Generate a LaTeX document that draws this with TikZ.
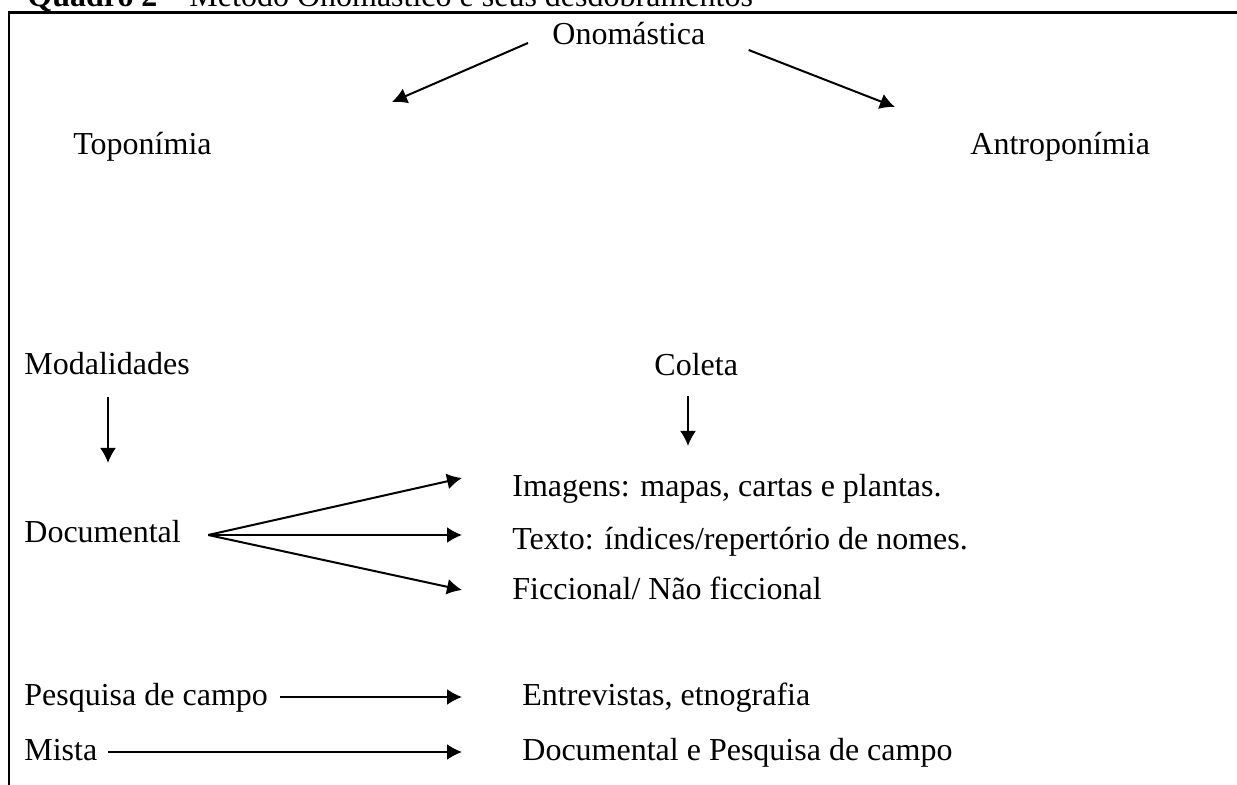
\documentclass[tikz,border=0pt]{standalone}
\usepackage{fontspec}
\setmainfont{Liberation Serif}
\usetikzlibrary{arrows.meta}

\begin{document}
\begin{tikzpicture}[x=0.5pt,y=-0.5pt,
    txt/.style={anchor=base west,inner sep=0pt,font=\fontsize{16}{19}\selectfont},
    arr/.style={-{Latex[length=7.5pt,width=8pt]},line width=1pt}]
    \useasboundingbox (0,0) rectangle (1237,785);
    % frame (open at right and bottom)
    \draw[line width=1.1pt] (1237,12.5) -- (9,12.5) -- (9,785);
    \node[txt] (title) at (27,7) {\textbf{Quadro 2} -- Método Onomástico e seus desdobramentos};

    \node[txt] (onom) at (552,45) {Onomástica};
    \node[txt] (topo) at (73,155) {Toponímia};
    \node[txt] (antro) at (970,155) {Antroponímia};
    \node[txt] (modal) at (24,375) {Modalidades};
    \node[txt] (coleta) at (654,376) {Coleta};
    \node[txt] (doc) at (24,543) {Documental};
    \node[txt] (img) at (512,497) {Imagens: mapas, cartas e plantas.};
    \node[txt] (texto) at (512,550) {Texto: índices/repertório de nomes.};
    \node[txt] (ficc) at (512,600) {Ficcional/ Não ficcional};
    \node[txt] (pesq) at (24,705) {Pesquisa de campo};
    \node[txt] (entrev) at (522,705) {Entrevistas, etnografia};
    \node[txt] (mista) at (24,760) {Mista};
    \node[txt] (docpesq) at (522,760) {Documental e Pesquisa de campo};

    % arrow ends
    \coordinate (topotip) at (392,102);
    \coordinate (antrotip) at (895,107);
    \coordinate (modaltip) at (108,463);
    \coordinate (coletatip) at (688,446);
    \coordinate (imgtip) at (462,478);
    \coordinate (textotip) at (462,535);
    \coordinate (ficctip) at (462,590);

    \draw[arr] ([xshift=-12pt,yshift=1pt]onom.base west) -- (topotip);
    \draw[arr] ([xshift=21.5pt,yshift=-2.5pt]onom.base east) -- (antrotip);
    \draw[arr] ([xshift=42pt,yshift=-11pt]modal.base west) -- (modaltip);
    \draw[arr] ([xshift=17pt,yshift=-10pt]coleta.base west) -- (coletatip);

    \foreach \n in {img,texto,ficc} {
        \draw[arr] ([xshift=13.5pt,yshift=4pt]doc.base east) -- (\n tip);
    }
    \draw[arr] ([xshift=6pt,yshift=4pt]pesq.base east) -- ([xshift=-30pt,yshift=4pt]entrev.base west);
    \draw[arr] ([xshift=5pt,yshift=4pt]mista.base east) -- ([xshift=-30pt,yshift=4pt]docpesq.base west);
\end{tikzpicture}
\end{document}
